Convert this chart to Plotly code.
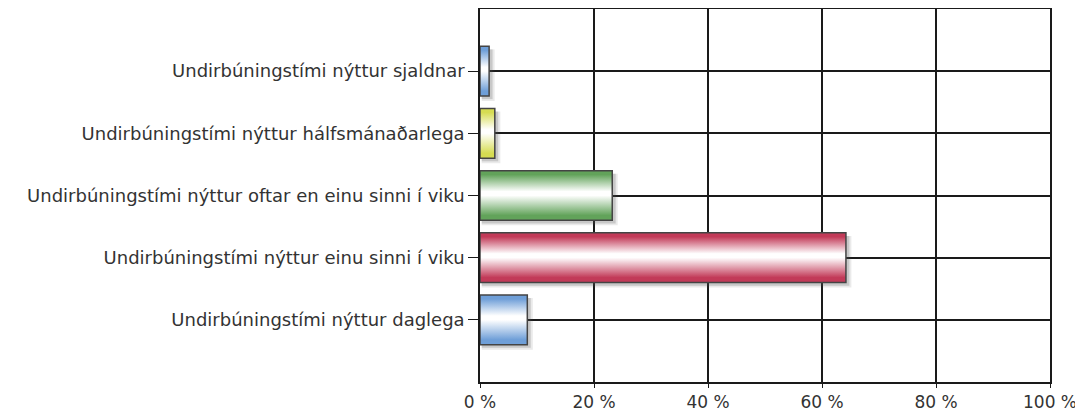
import plotly.graph_objects as go

# --- DATA ---
categories = [
    "Undirbúningstími nýttur sjaldnar",
    "Undirbúningstími nýttur hálfsmánaðarlega",
    "Undirbúningstími nýttur oftar en einu sinni í viku",
    "Undirbúningstími nýttur einu sinni í viku",
    "Undirbúningstími nýttur daglega",
]
percent = [1.6, 2.6, 23.2, 64.2, 8.3]
bar_colors = ["#6f9fd8", "#d6dc52", "#62a35a", "#c23a58", "#6f9fd8"]
x_ticks = [0, 20, 40, 60, 80, 100]
x_ticklabels = ["0 %", "20 %", "40 %", "60 %", "80 %", "100 %"]

BAR_HALF = 0.4
SHADOW_DX = 0.6
SHADOW_DY = 0.05

fig = go.Figure()

n = len(categories)
for i, (cat, val, col) in enumerate(zip(categories, percent, bar_colors)):
    yc = n - 1 - i  # top to bottom
    # soft drop shadow (two layers)
    for k, alpha in ((1.6, 0.12), (1.0, 0.22)):
        fig.add_trace(go.Scatter(
            x=[SHADOW_DX * 0.5, val + SHADOW_DX * k, val + SHADOW_DX * k, SHADOW_DX * 0.5, SHADOW_DX * 0.5],
            y=[yc - BAR_HALF - SHADOW_DY * k, yc - BAR_HALF - SHADOW_DY * k,
               yc + BAR_HALF - SHADOW_DY, yc + BAR_HALF - SHADOW_DY, yc - BAR_HALF - SHADOW_DY * k],
            fill="toself", fillcolor=f"rgba(80,80,80,{alpha})",
            line=dict(width=0), mode="lines", hoverinfo="skip", showlegend=False,
        ))
    # bar with cylindrical gradient
    fig.add_trace(go.Scatter(
        x=[0, val, val, 0, 0],
        y=[yc - BAR_HALF, yc - BAR_HALF, yc + BAR_HALF, yc + BAR_HALF, yc - BAR_HALF],
        fill="toself",
        fillgradient=dict(
            type="vertical",
            colorscale=[[0, col], [0.1, col], [0.5, "#ffffff"], [0.58, "#ffffff"], [0.92, col], [1, col]],
        ),
        line=dict(color="#444444", width=1.5),
        mode="lines", name=cat, showlegend=False,
        hovertemplate=cat + ": %{x:.1f} %<extra></extra>",
    ))

# page body has an 8px margin, so the figure is sized to fit the window
fig.update_layout(
    width=1075, height=404,
    margin=dict(l=472, r=33, t=1, b=30),
    paper_bgcolor="white", plot_bgcolor="white",
    font=dict(family="DejaVu Sans, Verdana, sans-serif", size=18, color="#333333"),
    xaxis=dict(
        range=[0, 100], tickvals=x_ticks, ticktext=x_ticklabels,
        showgrid=True, gridcolor="#1a1a1a", gridwidth=1.5,
        showline=True, linecolor="#1a1a1a", linewidth=1.5, mirror=True,
        ticks="outside", ticklen=4, tickcolor="#1a1a1a",
        zeroline=False, tickfont=dict(size=17), automargin=False,
    ),
    yaxis=dict(
        range=[-1, n], tickvals=[n - 1 - i for i in range(n)], ticktext=categories,
        showgrid=True, gridcolor="#1a1a1a", gridwidth=1.5,
        showline=True, linecolor="#1a1a1a", linewidth=1.5, mirror=True,
        ticks="outside", ticklen=10, tickcolor="#1a1a1a",
        zeroline=False, tickfont=dict(size=18), automargin=False,
    ),
)

fig.write_html("out.html")
